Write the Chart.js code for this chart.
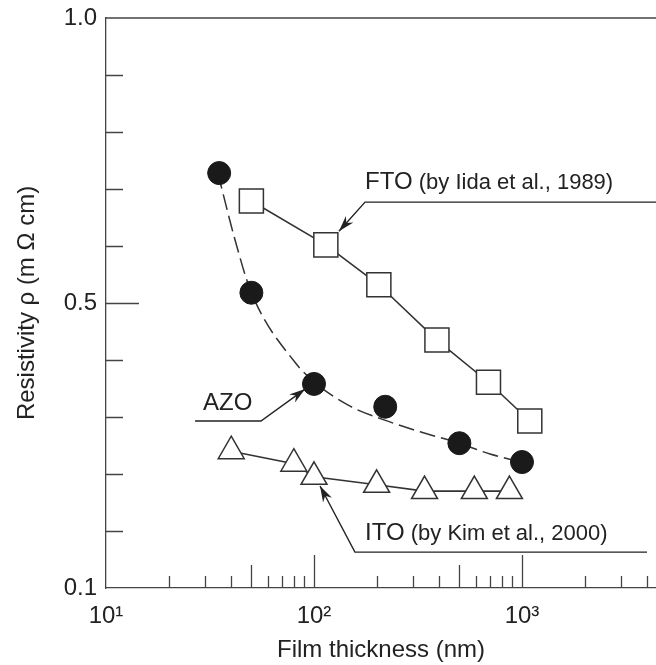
<!DOCTYPE html>
<html lang="en">
<head>
<meta charset="UTF-8">
<title>Resistivity vs film thickness</title>
<script src="https://cdn.jsdelivr.net/npm/chart.js"></script>
<style>
    body { margin: 0; background: #fff; }
    canvas { display: block; }
</style>
</head>
<body>
<canvas id="chart" width="656" height="665"></canvas>
<script>
// values (thickness in nm, resistivity in axis units)
const azoThickness = [35, 50, 100, 220, 500, 1000];
const azoRho = [0.728, 0.518, 0.358, 0.318, 0.254, 0.221];

// dashed guide curve drawn through the AZO points
const azoFitThickness = [34.5, 41.7, 50, 81, 103, 149, 217, 324, 498, 702, 989];
const azoFitRho = [0.728, 0.611, 0.518, 0.396, 0.358, 0.319, 0.295, 0.274, 0.254, 0.235, 0.221];

const ftoThickness = [50, 114, 205, 390, 690, 1090];
const ftoRho = [0.679, 0.602, 0.532, 0.435, 0.361, 0.293];

const itoThickness = [40, 80, 100, 200, 340, 590, 870];
const itoRho = [0.240, 0.218, 0.195, 0.181, 0.170, 0.170, 0.170];

const xTickValues = [10, 100, 1000];
const xTickLabels = ['10\u00b9', '10\u00b2', '10\u00b3'];
const yTickValues = [0, 0.5, 1.0];
const yTickLabels = ['0.1', '0.5', '1.0'];

const FONT = "'Liberation Sans', Arial, Helvetica, sans-serif";
const INK = '#333';

function points(xs, ys) {
    return xs.map((x, i) => ({ x: x, y: ys[i] }));
}

// labels with leader lines; positions given in data space
const callouts = [
    {
        parts: [['FTO', 24], [' (by Iida et al., 1989)', 22]],
        at: [176, 0.700],
        path: [[null, 0.677], [176, 0.677], [131.8, 0.626]]
    },
    {
        parts: [['AZO', 24]],
        at: [29.3, 0.312],
        path: [[26.8, 0.293], [55.6, 0.293], [90.6, 0.349]]
    },
    {
        parts: [['ITO', 24], [' (by Kim et al., 2000)', 22]],
        at: [176, 0.084],
        path: [[3990, 0.063], [157.3, 0.063], [106.9, 0.179]]
    }
];

function arrowHead(ctx, fx, fy, tx, ty) {
    const ang = Math.atan2(ty - fy, tx - fx);
    const len = 16, half = 5, notch = 11;
    ctx.save();
    ctx.translate(tx, ty);
    ctx.rotate(ang);
    ctx.beginPath();
    ctx.moveTo(0, 0);
    ctx.lineTo(-len, -half);
    ctx.lineTo(-notch, 0);
    ctx.lineTo(-len, half);
    ctx.closePath();
    ctx.fill();
    ctx.restore();
}

const axisMarks = {
    id: 'axisMarks',
    afterDraw(chart) {
        const { ctx, chartArea: a, scales: { x, y } } = chart;
        ctx.save();
        ctx.strokeStyle = '#444';
        ctx.lineWidth = 1.3;
        ctx.beginPath();
        ctx.moveTo(a.left, a.top);
        ctx.lineTo(a.right, a.top);

        // inward ticks on the y axis
        y.ticks.forEach(t => {
            if (t.value <= y.min + 1e-6 || t.value >= y.max - 1e-6) return;
            const py = Math.round(y.getPixelForValue(t.value)) + 0.5;
            const len = Math.abs(t.value - 0.5) < 1e-6 ? 33 : 17;
            ctx.moveTo(a.left, py);
            ctx.lineTo(a.left + len, py);
        });

        // inward log ticks on the x axis
        for (let d = 10; d < x.max; d *= 10) {
            for (let m = 1; m <= 9; m++) {
                const v = d * m;
                if (v <= x.min || v >= x.max) continue;
                const px = Math.round(x.getPixelForValue(v)) + 0.5;
                const len = m === 1 ? 33 : (m === 5 ? 23 : 12);
                ctx.moveTo(px, a.bottom);
                ctx.lineTo(px, a.bottom - len);
            }
        }
        ctx.stroke();

        // callouts
        ctx.fillStyle = '#222';
        ctx.strokeStyle = '#222';
        ctx.lineWidth = 1.4;
        ctx.textBaseline = 'alphabetic';
        ctx.textAlign = 'left';
        callouts.forEach(c => {
            let tx = x.getPixelForValue(c.at[0]);
            const ty = y.getPixelForValue(c.at[1]);
            c.parts.forEach(([txt, size]) => {
                ctx.font = size + 'px ' + FONT;
                ctx.fillText(txt, tx, ty);
                tx += ctx.measureText(txt).width;
            });
            const pts = c.path.map(([vx, vy]) => [
                vx === null ? a.right : x.getPixelForValue(vx),
                y.getPixelForValue(vy)
            ]);
            ctx.beginPath();
            pts.forEach(([px, py], i) => i ? ctx.lineTo(px, py) : ctx.moveTo(px, py));
            ctx.stroke();
            const n = pts.length;
            arrowHead(ctx, pts[n - 2][0], pts[n - 2][1], pts[n - 1][0], pts[n - 1][1]);
        });
        ctx.restore();
    }
};

new Chart(document.getElementById('chart'), {
    type: 'scatter',
    data: {
        datasets: [
            {
                label: 'AZO',
                data: points(azoThickness, azoRho),
                showLine: false,
                pointStyle: 'circle',
                pointRadius: 11.5,
                pointBackgroundColor: '#1a1a1a',
                pointBorderColor: '#1a1a1a',
                pointBorderWidth: 1
            },
            {
                label: 'FTO (by Iida et al., 1989)',
                data: points(ftoThickness, ftoRho),
                showLine: true,
                borderColor: INK,
                borderWidth: 1.6,
                pointStyle: 'rect',
                pointRadius: 17,
                pointBackgroundColor: '#fff',
                pointBorderColor: INK,
                pointBorderWidth: 1.5
            },
            {
                label: 'ITO (by Kim et al., 2000)',
                data: points(itoThickness, itoRho),
                showLine: true,
                borderColor: INK,
                borderWidth: 1.6,
                pointStyle: 'triangle',
                pointRadius: 15,
                pointBackgroundColor: '#fff',
                pointBorderColor: INK,
                pointBorderWidth: 1.5
            },
            {
                label: 'AZO trend',
                data: points(azoFitThickness, azoFitRho),
                showLine: true,
                borderColor: INK,
                borderWidth: 1.5,
                borderDash: [16, 6],
                cubicInterpolationMode: 'monotone',
                pointRadius: 0
            }
        ]
    },
    options: {
        responsive: false,
        animation: false,
        devicePixelRatio: 1,
        layout: { autoPadding: false, padding: { top: 18, right: 0, bottom: 0, left: 0 } },
        plugins: {
            legend: { display: false },
            tooltip: { enabled: false }
        },
        scales: {
            x: {
                type: 'logarithmic',
                position: 'bottom',
                min: 10,
                max: 4408,
                bounds: 'data',
                grid: { display: false, drawTicks: false },
                border: { display: true, color: '#444', width: 1.3 },
                afterBuildTicks: s => { s.ticks = xTickValues.map(v => ({ value: v })); },
                afterFit: s => {
                    s.height = 77;
                    s.paddingLeft = 0;
                    s.paddingRight = 0;
                },
                ticks: {
                    autoSkip: false,
                    maxRotation: 0,
                    padding: 14,
                    color: '#222',
                    font: { family: FONT, size: 24 },
                    callback: v => {
                        const i = xTickValues.indexOf(v);
                        return i >= 0 ? xTickLabels[i] : '';
                    }
                },
                title: {
                    display: true,
                    text: 'Film thickness (nm)',
                    color: '#222',
                    font: { family: FONT, size: 24 },
                    padding: { top: 0, bottom: 0 }
                }
            },
            y: {
                type: 'linear',
                min: 0,
                max: 1,
                grid: { display: false, drawTicks: false },
                border: { display: true, color: '#444', width: 1.3 },
                afterFit: s => {
                    s.width = 106;
                    s.paddingTop = 0;
                    s.paddingBottom = 0;
                },
                ticks: {
                    stepSize: 0.1,
                    autoSkip: false,
                    padding: 9,
                    color: '#222',
                    font: { family: FONT, size: 24 },
                    callback: v => {
                        const i = yTickValues.findIndex(t => Math.abs(t - v) < 1e-6);
                        return i >= 0 ? yTickLabels[i] : '';
                    }
                },
                title: {
                    display: true,
                    text: 'Resistivity \u03c1 (m \u03a9 cm)',
                    color: '#222',
                    font: { family: FONT, size: 24 },
                    padding: { top: 13, bottom: 0 }
                }
            }
        }
    },
    plugins: [axisMarks]
});
</script>
</body>
</html>
